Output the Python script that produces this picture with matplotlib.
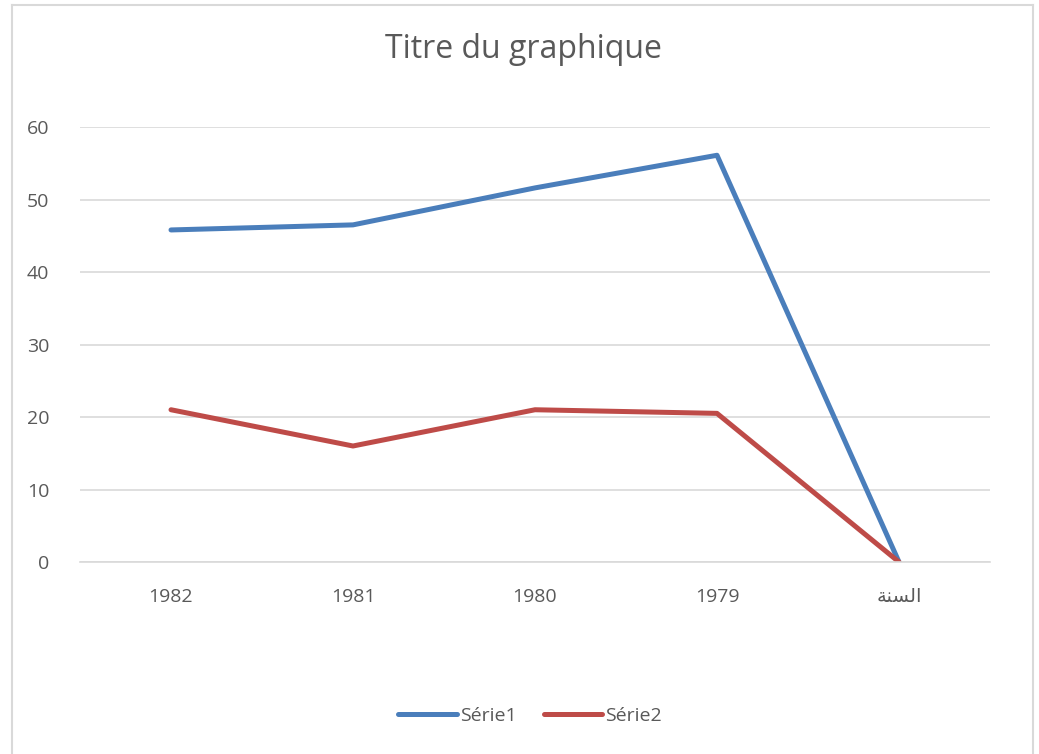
import matplotlib
matplotlib.use("Agg")
import matplotlib.pyplot as plt
from matplotlib.lines import Line2D

# categories as shown (Arabic word given in shaped presentation forms, visual order)
categories = ["1982", "1981", "1980", "1979", "\uFE94\uFEE8\uFEB4\uFEDF\uFE8D"]
serie1 = [45.8, 46.5, 51.6, 56.1, 0]
serie2 = [21.0, 16.0, 21.0, 20.5, 0]
yticks = [0, 10, 20, 30, 40, 50, 60]

plt.rcParams['font.family'] = ['Open Sans', 'DejaVu Sans']
grey = "#595959"

fig = plt.figure(figsize=(10.39, 7.54), dpi=100)
ax = fig.add_axes([80 / 1039, 1 - 562 / 754, 910 / 1039, 435 / 754])

x = range(len(categories))
ax.plot(x, serie1, color="#4A7EBB", lw=3.6, solid_capstyle="round", solid_joinstyle="round", label="Série1")
ax.plot(x, serie2, color="#BE4B48", lw=3.6, solid_capstyle="round", solid_joinstyle="round", label="Série2")

ax.set_xlim(-0.5, len(categories) - 0.5)
ax.set_ylim(0, 60)
ax.set_yticks(yticks)
ax.set_xticks(list(x))
ax.set_xticklabels(categories)
ax.grid(axis="y", color="#D9D9D9", lw=1.2)
ax.set_axisbelow(True)
for s in ["top", "right", "left"]:
    ax.spines[s].set_visible(False)
ax.spines["bottom"].set_color("#D9D9D9")
ax.spines["bottom"].set_linewidth(1.2)
ax.tick_params(length=0, labelcolor=grey, labelsize=14)
ax.tick_params(axis="x", pad=19)
ax.tick_params(axis="y", pad=22)

fig.text(523 / 1039, 1 - 50 / 754, "Titre du graphique", ha="center", va="center",
         fontsize=23, color=grey)

handles = [Line2D([], [], color="#4A7EBB", lw=3.6, solid_capstyle="round"),
           Line2D([], [], color="#BE4B48", lw=3.6, solid_capstyle="round")]
fig.legend(handles, ["Série1", "Série2"], loc="center", bbox_to_anchor=(530 / 1039, 1 - 716 / 754),
           ncol=2, frameon=False, fontsize=14, labelcolor=grey, handlelength=3.0,
           handletextpad=0.15, columnspacing=1.4)

# chart area border
bc = "#D9D9D9"
fig.add_artist(Line2D([12 / 1039, 12 / 1039], [0, 1 - 5 / 754], color=bc, lw=1.5))
fig.add_artist(Line2D([12 / 1039, 1033 / 1039], [1 - 5 / 754, 1 - 5 / 754], color=bc, lw=1.5))
fig.add_artist(Line2D([1033 / 1039, 1033 / 1039], [0, 1 - 5 / 754], color=bc, lw=1.5))

fig.savefig("out.png", dpi=100)
